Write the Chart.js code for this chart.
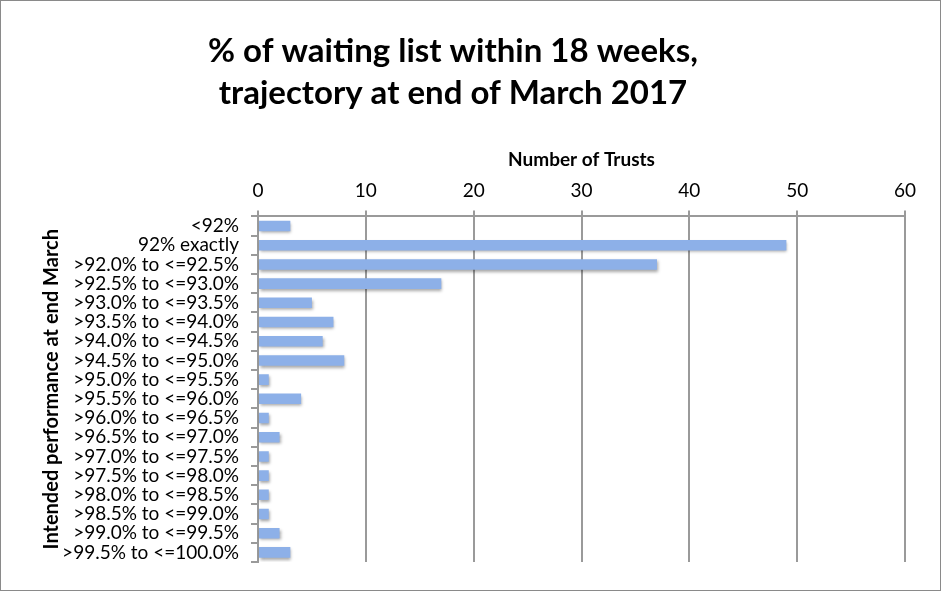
<!DOCTYPE html>
<html>
<head>
<meta charset="utf-8">
<script src="https://cdn.jsdelivr.net/npm/chart.js@4.4.0/dist/chart.umd.min.js"></script>
<style>
  body { margin: 0; background: #fff; }
  #wrap { width: 941px; height: 591px; box-sizing: border-box; border: 1px solid #8a8a8a; }
  canvas { display: block; }
</style>
</head>
<body>
<div id="wrap"><canvas id="chart" width="939" height="589"></canvas></div>
<script>
// categories (top to bottom) and number of trusts
const categories = [
    '<92%', '92% exactly', '>92.0% to <=92.5%', '>92.5% to <=93.0%',
    '>93.0% to <=93.5%', '>93.5% to <=94.0%', '>94.0% to <=94.5%', '>94.5% to <=95.0%',
    '>95.0% to <=95.5%', '>95.5% to <=96.0%', '>96.0% to <=96.5%', '>96.5% to <=97.0%',
    '>97.0% to <=97.5%', '>97.5% to <=98.0%', '>98.0% to <=98.5%', '>98.5% to <=99.0%',
    '>99.0% to <=99.5%', '>99.5% to <=100.0%'
];
const trusts = [3, 49, 37, 17, 5, 7, 6, 8, 1, 4, 1, 2, 1, 1, 1, 1, 2, 3];
const xMin = 0;
const xMax = 60;
const xStep = 10;

const fontFamily = 'Lato, "Open Sans", sans-serif';
const gridColor = '#9a9a9a';

// soft drop shadow under the bars, like the original
const barShadow = {
    id: 'barShadow',
    beforeDatasetsDraw(chart) {
        const ctx = chart.ctx;
        ctx.save();
        ctx.shadowColor = 'rgba(0, 0, 0, 0.35)';
        ctx.shadowBlur = 3;
        ctx.shadowOffsetX = 1;
        ctx.shadowOffsetY = 2;
    },
    afterDatasetsDraw(chart) {
        chart.ctx.restore();
    }
};

function barFill(context) {
    const chart = context.chart;
    const el = context.element;
    if (!chart.chartArea || !el || el.y === undefined) return '#8db0e8';
    const h = el.height || 10;
    const g = chart.ctx.createLinearGradient(0, el.y - h / 2, 0, el.y + h / 2);
    g.addColorStop(0, '#a6c2f0');
    g.addColorStop(0.5, '#8eb0ea');
    g.addColorStop(1, '#7196d8');
    return g;
}

const ctx = document.getElementById('chart').getContext('2d');
const chart = new Chart(ctx, {
    type: 'bar',
    data: {
        labels: categories,
        datasets: [{
            label: 'Number of Trusts',
            data: trusts,
            backgroundColor: barFill,
            borderWidth: 0,
            barPercentage: 0.55,
            categoryPercentage: 1.0
        }]
    },
    options: {
        indexAxis: 'y',
        responsive: false,
        animation: false,
        layout: {
            padding: { left: 0, right: 35, top: 0, bottom: 28 }
        },
        scales: {
            x: {
                position: 'top',
                min: xMin,
                max: xMax,
                ticks: {
                    stepSize: xStep,
                    color: '#000',
                    padding: 8,
                    font: { family: fontFamily, size: 19 }
                },
                grid: {
                    color: gridColor,
                    lineWidth: 2,
                    tickLength: 6,
                    drawTicks: true
                },
                border: { display: true, color: gridColor, width: 2 },
                title: {
                    display: true,
                    text: 'Number of Trusts',
                    color: '#000',
                    font: { family: fontFamily, size: 19, weight: 'bold' },
                    padding: { top: 0, bottom: 0 }
                }
            },
            y: {
                afterFit(scale) { scale.width = 257; },
                ticks: {
                    color: '#000',
                    padding: 12,
                    autoSkip: false,
                    font: { family: fontFamily, size: 19 }
                },
                grid: {
                    offset: true,
                    drawOnChartArea: false,
                    color: gridColor,
                    lineWidth: 2,
                    tickLength: 7
                },
                border: { display: true, color: gridColor, width: 2 },
                title: {
                    display: true,
                    text: 'Intended performance at end March',
                    color: '#000',
                    font: { family: fontFamily, size: 20, weight: 'bold' },
                    padding: { top: 39, bottom: 0 }
                }
            }
        },
        plugins: {
            legend: { display: false },
            tooltip: { enabled: false },
            title: {
                display: true,
                text: ['% of waiting list within 18 weeks,', 'trajectory at end of March 2017'],
                color: '#000',
                font: { family: fontFamily, size: 33, weight: 'bold', lineHeight: 1.27 },
                padding: { top: 29, bottom: 35 }
            }
        }
    },
    plugins: [barShadow]
});
</script>
</body>
</html>
